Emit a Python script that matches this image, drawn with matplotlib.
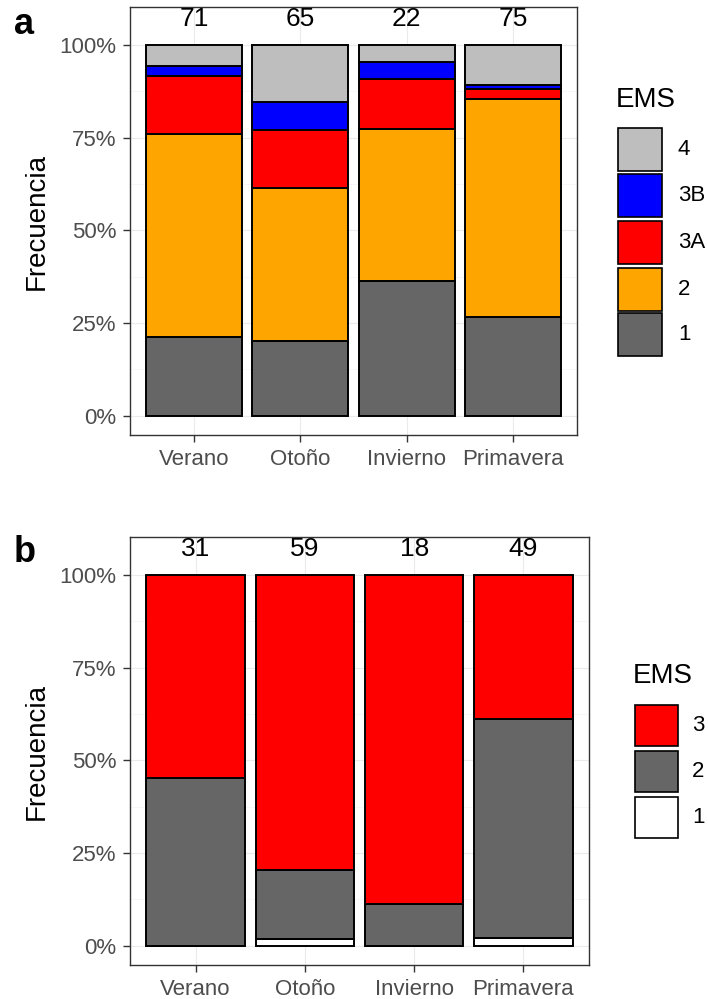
import matplotlib.pyplot as plt
from matplotlib.patches import Rectangle
import numpy as np

plt.rcParams['font.family'] = ['Liberation Sans', 'DejaVu Sans']

seasons = ['Verano', 'Otoño', 'Invierno', 'Primavera']

# panel a: counts per EMS class (bottom to top)
ems_a = ['1', '2', '3A', '3B', '4']
counts_a = {
    '1':  [15, 13, 8, 20],
    '2':  [39, 27, 9, 44],
    '3A': [11, 10, 3, 2],
    '3B': [2, 5, 1, 1],
    '4':  [4, 10, 1, 8],
}
totals_a = [71, 65, 22, 75]
colors_a = {'1': '#666666', '2': '#FFA500', '3A': '#FF0000',
            '3B': '#0000FF', '4': '#BEBEBE'}

# panel b
ems_b = ['1', '2', '3']
counts_b = {
    '1': [0, 1, 0, 1],
    '2': [14, 11, 2, 29],
    '3': [17, 47, 16, 19],
}
totals_b = [31, 59, 18, 49]
colors_b = {'1': '#FFFFFF', '2': '#666666', '3': '#FF0000'}

W, H = 708, 999
fig = plt.figure(figsize=(W / 100, H / 100), dpi=100)


def fx(px):
    return px / W


def fy(py):
    return 1 - py / H


def stacked(ax, classes, counts, totals, colors):
    x = np.arange(len(seasons))
    tot = np.array(totals, dtype=float)
    bottom = np.zeros(len(seasons))
    for c in classes:
        pct = np.array(counts[c]) / tot * 100
        ax.bar(x, pct, width=0.9, bottom=bottom, color=colors[c],
               edgecolor='black', linewidth=1.4, zorder=3)
        bottom += pct
    for xi, n in zip(x, totals):
        ax.text(xi, 107.0, str(n), ha='center', va='center', fontsize=19,
                color='black', zorder=4)
    ax.set_xlim(-0.6, len(seasons) - 0.4)
    ax.set_ylim(-5.25, 110.25)
    ax.set_xticks(x)
    ax.set_xticklabels(seasons)
    ax.set_yticks([0, 25, 50, 75, 100])
    ax.set_yticklabels(['0%', '25%', '50%', '75%', '100%'])
    ax.set_yticks([12.5, 37.5, 62.5, 87.5], minor=True)
    ax.grid(True, which='major', color='#EBEBEB', linewidth=0.8, zorder=0)
    ax.grid(True, which='minor', axis='y', color='#F4F4F4', linewidth=0.5, zorder=0)
    ax.tick_params(axis='both', which='major', labelsize=16, colors='#333333',
                   labelcolor='#4D4D4D', length=5, width=1, pad=5)
    ax.tick_params(axis='y', which='minor', length=0)
    for s in ax.spines.values():
        s.set_color('#333333')
        s.set_linewidth(1.0)
    ax.set_ylabel('Frecuencia', fontsize=20, labelpad=7)


def legend(classes, colors, title_xy, key_x, key_tops, key_w, key_h, label_x):
    fig.text(fx(title_xy[0]), fy(title_xy[1]), 'EMS', fontsize=20,
             ha='left', va='center')
    for c, top in zip(classes, key_tops):
        fig.add_artist(Rectangle((fx(key_x), fy(top + key_h)), key_w / W, key_h / H,
                                 facecolor=colors[c], edgecolor='black',
                                 linewidth=1.2, transform=fig.transFigure))
        fig.text(fx(label_x), fy(top + key_h / 2), c, fontsize=16,
                 ha='left', va='center')


# panel a
ax_a = fig.add_axes([fx(130), fy(435), (577 - 130) / W, (435 - 7) / H])
stacked(ax_a, ems_a, counts_a, totals_a, colors_a)
fig.text(fx(14), fy(25), 'a', fontsize=26, fontweight='bold', ha='left', va='center')
legend(list(reversed(ems_a)), colors_a, (616, 100), 618,
       [128, 174, 221, 268, 313], 44, 43, 678)

# panel b
ax_b = fig.add_axes([fx(130), fy(965), (589 - 130) / W, (965 - 537) / H])
stacked(ax_b, ems_b, counts_b, totals_b, colors_b)
fig.text(fx(14), fy(552), 'b', fontsize=26, fontweight='bold', ha='left', va='center')
legend(list(reversed(ems_b)), colors_b, (633, 676), 635,
       [705, 751, 797], 43, 41, 692)

fig.savefig('out.png', dpi=100)
